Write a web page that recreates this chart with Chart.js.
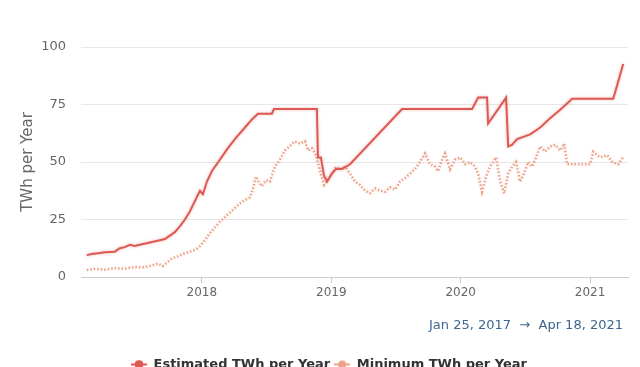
<!DOCTYPE html>
<html>
<head>
<meta charset="utf-8">
<script src="https://cdn.jsdelivr.net/npm/chart.js@4.4.0/dist/chart.umd.min.js"></script>
<style>
  html, body { margin: 0; padding: 0; overflow: hidden; background: #fff; }
  #wrap { position: relative; width: 640px; height: 381px; }
  #range {
    position: absolute; right: 17px; top: 317px;
    font: 13px "DejaVu Sans", sans-serif; color: #3e6690;
  }
</style>
</head>
<body>
<div id="wrap">
  <canvas id="energyChart" width="640" height="381"></canvas>
  <div id="range">Jan 25, 2017 &nbsp;&rarr;&nbsp; Apr 18, 2021</div>
</div>
<script>
// dates as decimal years
const estDates = [2017.111, 2017.149, 2017.211, 2017.250, 2017.327, 2017.366, 2017.404, 2017.443,
  2017.482, 2017.520, 2017.598, 2017.675, 2017.714, 2017.753, 2017.791, 2017.830, 2017.869,
  2017.907, 2017.946, 2017.985, 2018.008, 2018.039, 2018.077, 2018.139, 2018.201, 2018.263,
  2018.333, 2018.387, 2018.433, 2018.541, 2018.557, 2018.572, 2018.889, 2018.897, 2018.920,
  2018.944, 2018.967, 2019.005, 2019.036, 2019.083, 2019.145, 2019.547, 2020.088, 2020.135,
  2020.204, 2020.212, 2020.351, 2020.367, 2020.398, 2020.436, 2020.537, 2020.614, 2020.691,
  2020.769, 2020.862, 2021.179, 2021.256];
const estValues = [9.5, 10, 10.4, 10.8, 11, 12.5, 13, 14,
  13.5, 14, 15, 16, 16.5, 18, 19.5, 22, 25,
  28.5, 33, 37.5, 36, 41.5, 46, 51, 56, 60.5,
  65, 68.5, 71, 71, 73, 73, 73, 52, 52,
  44, 41.5, 45, 47, 47, 49, 73, 73, 78,
  78, 66.7, 78, 56.7, 57.5, 60, 62, 65, 69,
  72.7, 77.5, 77.5, 92.6];

const minDates = [2017.111, 2017.172, 2017.250, 2017.327, 2017.404, 2017.482, 2017.559, 2017.613,
  2017.660, 2017.698, 2017.737, 2017.768, 2017.814, 2017.861, 2017.907, 2017.954, 2017.985,
  2018.023, 2018.062, 2018.101, 2018.139, 2018.178, 2018.217, 2018.255, 2018.294, 2018.333,
  2018.371, 2018.394, 2018.418, 2018.441, 2018.464, 2018.495, 2018.526, 2018.565, 2018.603,
  2018.642, 2018.681, 2018.719, 2018.758, 2018.797, 2018.820, 2018.851, 2018.882, 2018.913,
  2018.944, 2018.974, 2019.005, 2019.036, 2019.067, 2019.106, 2019.145, 2019.183, 2019.222,
  2019.261, 2019.299, 2019.338, 2019.377, 2019.415, 2019.454, 2019.493, 2019.531, 2019.570,
  2019.609, 2019.647, 2019.686, 2019.725, 2019.763, 2019.802, 2019.825, 2019.856, 2019.879,
  2019.918, 2019.957, 2019.995, 2020.034, 2020.073, 2020.111, 2020.135, 2020.165, 2020.196,
  2020.227, 2020.274, 2020.305, 2020.336, 2020.367, 2020.398, 2020.428, 2020.459, 2020.490,
  2020.521, 2020.552, 2020.583, 2020.614, 2020.653, 2020.691, 2020.730, 2020.769, 2020.800,
  2020.823, 2021.001, 2021.024, 2021.078, 2021.132, 2021.171, 2021.217, 2021.256];
const minValues = [3.0, 3.5, 3.2, 3.8, 3.6, 4.4, 4.2, 5.0,
  5.8, 4.8, 6.5, 8.0, 9.0, 10.2, 11.0, 12.0, 13.4,
  16.0, 19.0, 21.5, 24.0, 26.0, 28.0, 30.0, 32.0, 33.5,
  34.6, 38.0, 43.7, 41.0, 39.5, 42.0, 41.5, 48.0, 51.0,
  55.0, 57.0, 59.0, 58.0, 59.0, 55.0, 56.0, 53.0, 46.0,
  40.0, 42.0, 45.0, 48.0, 47.0, 48.0, 45.0, 41.5, 40.0,
  37.5, 36.4, 38.5, 37.5, 37.0, 39.0, 38.0, 41.5, 43.0,
  45.0, 47.0, 50.0, 53.7, 49.0, 48.0, 46.0, 51.0, 53.7,
  46.8, 51.0, 52.0, 49.0, 50.0, 48.0, 45.0, 37.0, 43.7,
  48.0, 52.0, 41.5, 36.4, 45.0, 48.0, 50.0, 41.5, 45.0,
  50.0, 48.0, 52.0, 56.7, 54.5, 56.7, 57.5, 55.0, 58.0,
  49.0, 49.0, 54.5, 52.0, 53.0, 50.0, 49.0, 52.0];

const yearTicks = [2018, 2019, 2020, 2021];
const valueTicks = [0, 25, 50, 75, 100];

function toPoints(xs, ys) {
  return xs.map((x, i) => ({ x: x, y: ys[i] }));
}

// legend marker: short line with a dot on it
function makeMarker(color, r) {
  const c = document.createElement("canvas");
  c.width = 16;
  c.height = 10;
  const g = c.getContext("2d");
  g.strokeStyle = color;
  g.lineWidth = 2;
  g.beginPath();
  g.moveTo(0, 5);
  g.lineTo(16, 5);
  g.stroke();
  g.fillStyle = color;
  g.beginPath();
  g.arc(8, 5, r, 0, Math.PI * 2);
  g.fill();
  return c;
}

// soft glow under the lines
const glowPlugin = {
  id: "glow",
  beforeDatasetDraw(chart, args) {
    const ctx = chart.ctx;
    ctx.save();
    ctx.shadowColor = args.index === 0 ? "rgba(235,110,110,0.5)" : "rgba(240,170,150,0.35)";
    ctx.shadowBlur = 3;
  },
  afterDatasetDraw(chart) {
    chart.ctx.restore();
  },
  afterLayout(chart) {
    // nudge the legend to where the original sits
    chart.legend.left += 15;
    chart.legend.right += 15;
  },
};

const ctx = document.getElementById("energyChart").getContext("2d");
const energyChart = new Chart(ctx, {
  type: "line",
  data: {
    datasets: [
      {
        label: "Estimated TWh per Year",
        data: toPoints(estDates, estValues),
        borderColor: "#dc5a52",
        backgroundColor: "#dc5a52",
        borderWidth: 2,
        pointRadius: 0,
        pointStyle: makeMarker("#dc5a52", 4.5),
        tension: 0,
        fill: false,
      },
      {
        label: "Minimum TWh per Year",
        data: toPoints(minDates, minValues),
        borderColor: "#eba288",
        backgroundColor: "#eba288",
        borderWidth: 2.5,
        borderDash: [1.5, 2],
        pointRadius: 0,
        pointStyle: makeMarker("#eba288", 4),
        tension: 0,
        fill: false,
      },
    ],
  },
  plugins: [glowPlugin],
  options: {
    responsive: false,
    animation: false,
    layout: { padding: { top: 47, right: 12, left: 0, bottom: 0 } },
    plugins: {
      tooltip: { enabled: false },
      legend: {
        position: "bottom",
        labels: {
          usePointStyle: true,
          pointStyleWidth: 16,
          boxHeight: 10,
          padding: 4,
          color: "#333",
          font: { family: "DejaVu Sans", size: 13, weight: "bold" },
        },
      },
    },
    scales: {
      x: {
        type: "linear",
        min: 2017.066,
        max: 2021.293,
        afterBuildTicks: (scale) => {
          scale.ticks = yearTicks.map((v) => ({ value: v }));
        },
        afterFit: (scale) => {
          scale.height = 77;
        },
        grid: { drawOnChartArea: false, drawTicks: true, tickLength: 6, color: "#cccccc" },
        border: { color: "#cccccc" },
        ticks: {
          color: "#666",
          padding: 3,
          maxRotation: 0,
          font: { family: "DejaVu Sans", size: 12 },
          callback: (v) => String(v),
        },
      },
      y: {
        min: 0,
        max: 100,
        afterBuildTicks: (scale) => {
          scale.ticks = valueTicks.map((v) => ({ value: v }));
        },
        afterFit: (scale) => {
          scale.width = 81;
        },
        grid: { color: "#e6e6e6", drawTicks: false },
        border: { display: false },
        ticks: {
          color: "#666",
          padding: 15,
          font: { family: "DejaVu Sans", size: 13 },
        },
        title: {
          display: true,
          text: "TWh per Year",
          color: "#666",
          padding: { top: 19, bottom: 0 },
          font: { family: "DejaVu Sans", size: 15 },
        },
      },
    },
  },
});
</script>
</body>
</html>
